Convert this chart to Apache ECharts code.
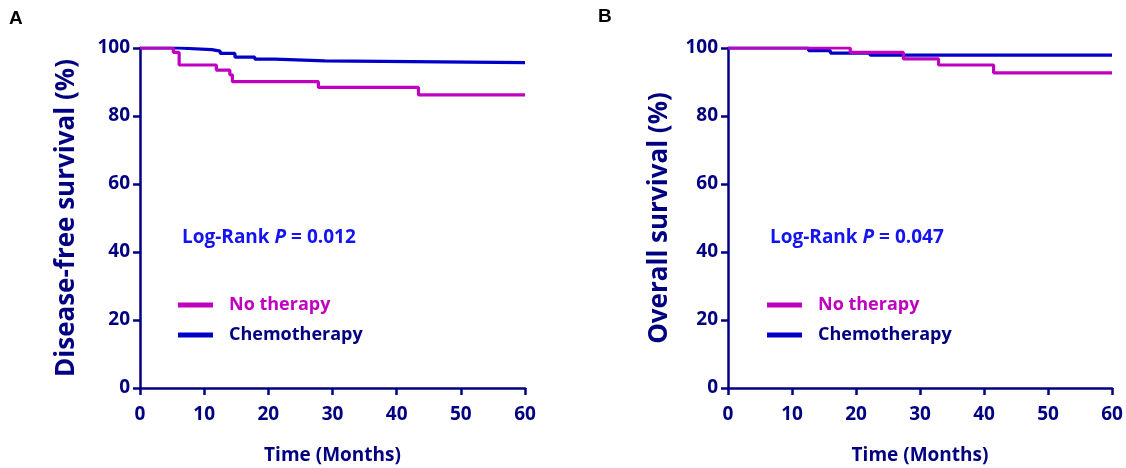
<!DOCTYPE html>
<html><head><meta charset="utf-8">
<script src="https://cdn.jsdelivr.net/npm/echarts@6/dist/echarts.min.js"></script>
<style>html,body{margin:0;padding:0;background:#fff}#c{width:1126px;height:468px}</style>
</head><body><div id="c"></div>
<script>
// Panel A: Disease-free survival (time in months, survival %)
const dfsNoTherapy = [[0,100],[5.2,98.7],[6.1,95.0],[11.9,93.5],[14.0,92.1],[14.4,90.1],[27.8,88.4],[43.4,86.2],[60,86.2]];
const dfsChemo = [[0,100],[6.0,99.5],[11.2,99.1],[12.5,98.4],[14.8,97.3],[17.9,96.7],[21.0,96.2],[28.8,95.7],[60,95.7]];
// Panel B: Overall survival
const osNoTherapy = [[0,100],[19.1,98.7],[27.4,96.8],[32.9,95.0],[41.5,92.7],[60,92.7]];
const osChemo = [[0,100],[12.6,99.2],[16.0,98.5],[22.2,97.9],[60,97.9]];
const seriesNames = ['No therapy','Chemotherapy'];
const xTicks = {min:0,max:60,interval:10};
const yTicks = {min:0,max:100,interval:20};
const pValues = ['0.012','0.047'];
const yTitles = ['Disease-free survival (%)','Overall survival (%)'];
const xTitle = 'Time (Months)';
const panelLabels = ['A','B'];

const NAVY='#000080', MAG='#C000C0', BLUE='#0000C8', PBLUE='#1414F0';
const FONT='Open Sans';
const chart = echarts.init(document.getElementById('c'));
const grids=[{left:140,top:48,width:385,height:340,containLabel:false,outerBoundsMode:'none'},
             {left:728,top:48,width:384,height:340,containLabel:false,outerBoundsMode:'none'}];
function xAxis(i){return {gridIndex:i,type:'value',min:xTicks.min,max:xTicks.max,interval:xTicks.interval,
  axisLine:{onZero:false,lineStyle:{color:NAVY,width:2.5}},axisTick:{show:true,length:7,lineStyle:{width:2.5,color:NAVY}},
  splitLine:{show:false},axisLabel:{color:NAVY,fontFamily:FONT,fontWeight:'bold',fontSize:19,margin:17},
  name:xTitle,nameLocation:'middle',nameGap:58,nameTextStyle:{color:NAVY,fontFamily:FONT,fontWeight:'bold',fontSize:19}};}
function yAxis(i){return {gridIndex:i,type:'value',min:yTicks.min,max:yTicks.max,interval:yTicks.interval,
  axisLine:{show:true,onZero:false,lineStyle:{color:NAVY,width:2.5}},axisTick:{show:true,length:7,lineStyle:{width:2.5,color:NAVY}},
  splitLine:{show:false},axisLabel:{color:NAVY,fontFamily:FONT,fontWeight:'bold',fontSize:19,margin:10},
  name:yTitles[i],nameLocation:'middle',nameGap:i===0?60:55,nameRotate:90,nameTextStyle:{color:NAVY,fontFamily:FONT,fontWeight:'bold',fontSize:26}};}
function ser(name,data,i,color,z){return {name:name,type:'line',step:'end',data:data,xAxisIndex:i,yAxisIndex:i,
  showSymbol:false,symbol:'none',lineStyle:{color:color,width:3.2},itemStyle:{color:color},z:z,animation:false};}
function legend(left){return {left:left,top:291,orient:'vertical',itemWidth:35,itemHeight:5,itemGap:12,
  textStyle:{fontFamily:FONT,fontWeight:'bold',fontSize:18,padding:[0,0,0,11]},
  data:[{name:seriesNames[0],icon:'rect',textStyle:{color:MAG}},{name:seriesNames[1],icon:'rect',textStyle:{color:NAVY}}]};}
function ptext(x,p){return {type:'text',left:x,top:228,style:{
  text:'{a|Log-Rank }{b|P}{a| = '+p+'}',rich:{a:{fontFamily:FONT,fontWeight:'bold',fontSize:19,fill:PBLUE},b:{fontFamily:FONT,fontWeight:'bold',fontStyle:'italic',fontSize:19,fill:PBLUE}}}};}
chart.setOption({
  animation:false,
  grid:grids,
  xAxis:[xAxis(0),xAxis(1)],
  yAxis:[yAxis(0),yAxis(1)],
  legend:[legend(173),legend(762)],
  series:[ser(seriesNames[1],dfsChemo,0,BLUE,2),ser(seriesNames[0],dfsNoTherapy,0,MAG,3),
          ser(seriesNames[1],osChemo,1,BLUE,2),ser(seriesNames[0],osNoTherapy,1,MAG,3)],
  graphic:[ptext(182,pValues[0]),ptext(770,pValues[1]),
    {type:'text',left:9,top:9,style:{text:panelLabels[0],fontFamily:'Liberation Sans',fontWeight:'bold',fontSize:19,fill:'#000'}},
    {type:'text',left:598,top:7,style:{text:panelLabels[1],fontFamily:'Liberation Sans',fontWeight:'bold',fontSize:19,fill:'#000'}}]
});
</script></body></html>
